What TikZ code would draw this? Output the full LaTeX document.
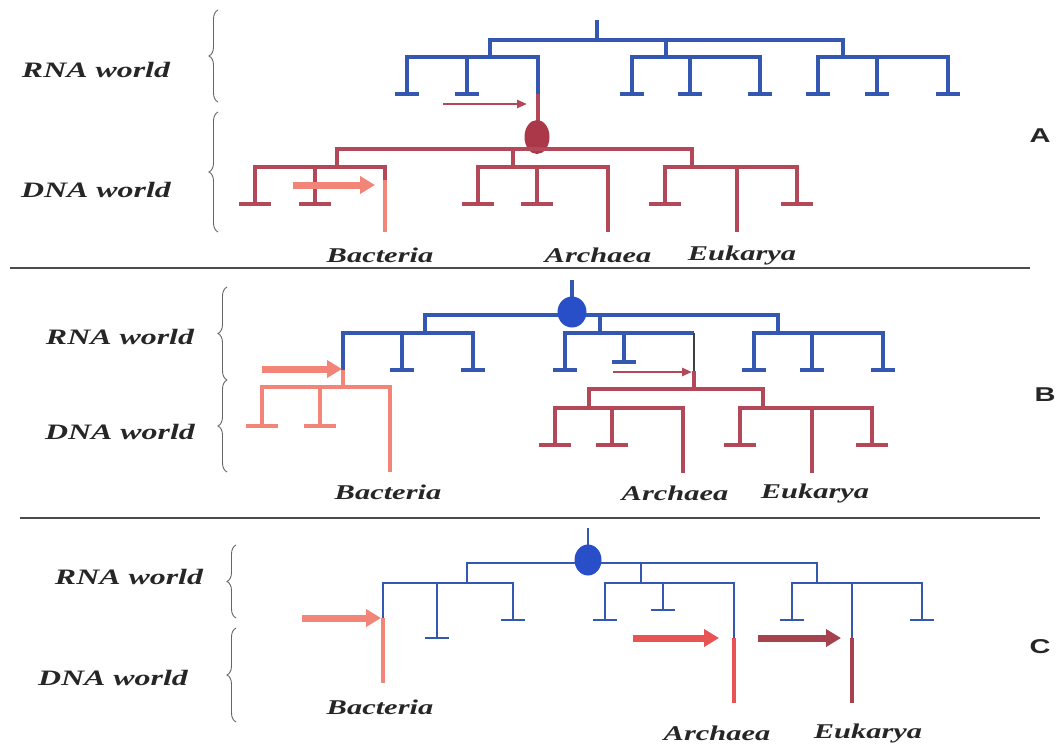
\documentclass[tikz,border=0pt]{standalone}
\usepackage{fontspec}
\setmainfont{Liberation Serif}
\newfontfamily\panelfont{Liberation Sans}
\usepackage{graphicx}
\usetikzlibrary{arrows.meta,decorations.pathreplacing,shapes.geometric}
\definecolor{rnaBlue}{RGB}{52,88,178}
\definecolor{dnaRed}{RGB}{178,72,88}
\definecolor{bactPink}{RGB}{242,132,120}
\definecolor{archRed}{RGB}{232,84,84}
\definecolor{eukRed}{RGB}{166,66,78}
\definecolor{rootBlue}{RGB}{40,78,200}
\definecolor{rootRed}{RGB}{170,56,72}
\newcommand{\wide}[1]{\scalebox{1.45}[1]{#1}}
\newcommand{\tbar}[4]{\draw[#1] ({#2-#4},#3) -- ({#2+#4},#3);}
\tikzset{
  rna/.style={draw=rnaBlue,line width=3.4pt},
  rnathin/.style={draw=rnaBlue,line width=2.6pt},
  dna/.style={draw=dnaRed,line width=4pt},
  bact/.style={draw=bactPink,line width=4pt},
  brc/.style={decorate,decoration={brace,amplitude=9pt},draw=black!60,line width=0.9pt},
  world/.style={font=\fontsize{22}{24}\selectfont\bfseries\itshape,text=black!85},
  taxon/.style={font=\fontsize{21}{23}\selectfont\bfseries\itshape,text=black!85},
  panel/.style={font=\panelfont\fontsize{20}{23}\selectfont\bfseries,text=black!85},
  fatarrow/.style={line width=7pt,-{Triangle[length=15pt,width=17pt]}},
  thinarrow/.style={line width=2.6pt,draw=dnaRed,-{Triangle[length=10pt,width=8pt]}}
}
\begin{document}
\begin{tikzpicture}[x=1pt,y=-1pt]
\useasboundingbox[fill=white] (0,0) rectangle (1057,744);

% panel A
\node[world] (rnaA) at (96,70) {\wide{RNA world}};
\node[world] (dnaA) at (96,190) {\wide{DNA world}};
\draw[brc] (218,102) -- (218,10);
\draw[brc] (218,232) -- (218,112);
\draw[rna] (597,20) -- (597,40);
\draw[rna] (490,57) |- (843,40) -- (843,57);
\draw[rna] (407,94) |- (538,57) -- (538,94);
\draw[rna] (467,57) -- (467,94);
\draw[rna] (666,40) -- (666,57);
\draw[rna] (632,94) |- (760,57) -- (760,94);
\draw[rna] (690,57) -- (690,94);
\draw[rna] (818,94) |- (948,57) -- (948,94);
\draw[rna] (877,57) -- (877,94);
\foreach \x in {407,467,632,690,760,818,877,948} {\tbar{rna}{\x}{94}{12}}
\draw[dna] (538,94) -- (538,137);
\node[ellipse,fill=rootRed,minimum width=25pt,minimum height=34pt,inner sep=0pt] (rootA) at (537,137) {};
\draw[dna] (337,167) |- (692,149) -- (692,167);
\draw[dna] (255,204) |- (385,167) -- (385,181);
\draw[dna] (315,167) -- (315,204);
\draw[bact] (385,180) -- (385,232);
\draw[dna] (513,149) -- (513,167);
\draw[dna] (478,204) |- (608,167) -- (608,232);
\draw[dna] (537,167) -- (537,204);
\draw[dna] (665,204) |- (797,167) -- (797,204);
\draw[dna] (737,167) -- (737,232);
\foreach \x in {255,315,478,537,665,797} {\tbar{dna}{\x}{204}{16}}
\draw[thinarrow] (443,104) -- (527,104);
\draw[fatarrow,bactPink] (293,185) -- (375,185);
\node[taxon] (bactA) at (380,255) {\wide{Bacteria}};
\node[taxon] (archA) at (598,255) {\wide{Archaea}};
\node[taxon] (eukA) at (742,255) {\wide{Eukarya}};
\node[panel] (labA) at (1040,136) {\wide{A}};
\draw[black!70,line width=1.5pt] (10,268) -- (1030,268);

% panel B
\node[world] (rnaB) at (120,337) {\wide{RNA world}};
\node[world] (dnaB) at (120,432) {\wide{DNA world}};
\draw[brc] (227,380) -- (227,287);
\draw[brc] (227,472) -- (227,380);
\draw[rna] (572,280) -- (572,300);
\draw[rna] (425,333) |- (778,315) -- (778,333);
\draw[rna] (343,371) |- (473,333) -- (473,370);
\draw[rna] (402,333) -- (402,370);
\draw[rna] (600,315) -- (600,333);
\draw[rna] (565,370) |- (694,333);
\draw[rna] (624,333) -- (624,362);
\draw[black!75,line width=1.4pt] (694,333) -- (694,372);
\draw[rna] (754,370) |- (883,333) -- (883,370);
\draw[rna] (812,333) -- (812,370);
\foreach \x in {402,473,565,754,812,883} {\tbar{rna}{\x}{370}{12}}
\tbar{rna}{624}{362}{12}
\node[ellipse,fill=rootBlue,minimum width=29pt,minimum height=31pt,inner sep=0pt] (rootB) at (572,312) {};
\draw[bact] (343,370) -- (343,387);
\draw[bact] (262,426) |- (390,387) -- (390,472);
\draw[bact] (320,387) -- (320,426);
\foreach \x in {262,320} {\tbar{bact}{\x}{426}{16}}
\draw[dna] (694,371) -- (694,389);
\draw[dna] (589,408) |- (763,389) -- (763,408);
\draw[dna] (555,445) |- (683,408) -- (683,473);
\draw[dna] (612,408) -- (612,445);
\draw[dna] (740,445) |- (872,408) -- (872,445);
\draw[dna] (812,408) -- (812,473);
\foreach \x in {555,612,740,872} {\tbar{dna}{\x}{445}{16}}
\draw[fatarrow,bactPink] (262,369) -- (342,369);
\draw[thinarrow] (613,372) -- (692,372);
\node[taxon] (bactB) at (388,492) {\wide{Bacteria}};
\node[taxon] (archB) at (675,493) {\wide{Archaea}};
\node[taxon] (eukB) at (815,493) {\wide{Eukarya}};
\node[panel] (labB) at (1045,395) {\wide{B}};
\draw[black!70,line width=1.5pt] (20,518) -- (1040,518);

% panel C
\node[world] (rnaC) at (129,577) {\wide{RNA world}};
\node[world] (dnaC) at (113,678) {\wide{DNA world}};
\draw[brc] (236,618) -- (236,545);
\draw[brc] (236,722) -- (236,628);
\draw[rnathin] (588,528) -- (588,548);
\draw[rnathin] (467,583) |- (817,563) -- (817,583);
\draw[rnathin] (383,619) |- (513,583) -- (513,620);
\draw[rnathin] (437,583) -- (437,638);
\draw[rnathin] (641,563) -- (641,583);
\draw[rnathin] (605,620) |- (734,583) -- (734,639);
\draw[rnathin] (663,583) -- (663,610);
\draw[rnathin] (792,620) |- (922,583) -- (922,620);
\draw[rnathin] (852,583) -- (852,639);
\foreach \x in {513,605,792,922} {\tbar{rnathin}{\x}{620}{12}}
\tbar{rnathin}{437}{638}{12}
\tbar{rnathin}{663}{610}{12}
\node[ellipse,fill=rootBlue,minimum width=27pt,minimum height=31pt,inner sep=0pt] (rootC) at (588,560) {};
\draw[bact] (383,618) -- (383,683);
\draw[archRed,line width=4pt] (734,638) -- (734,703);
\draw[eukRed,line width=4pt] (852,638) -- (852,703);
\draw[fatarrow,bactPink] (302,618) -- (381,618);
\draw[fatarrow,archRed] (633,638) -- (719,638);
\draw[fatarrow,eukRed] (758,638) -- (841,638);
\node[taxon] (bactC) at (380,707) {\wide{Bacteria}};
\node[taxon] (archC) at (717,733) {\wide{Archaea}};
\node[taxon] (eukC) at (868,733) {\wide{Eukarya}};
\node[panel] (labC) at (1040,647) {\wide{C}};
\end{tikzpicture}
\end{document}
